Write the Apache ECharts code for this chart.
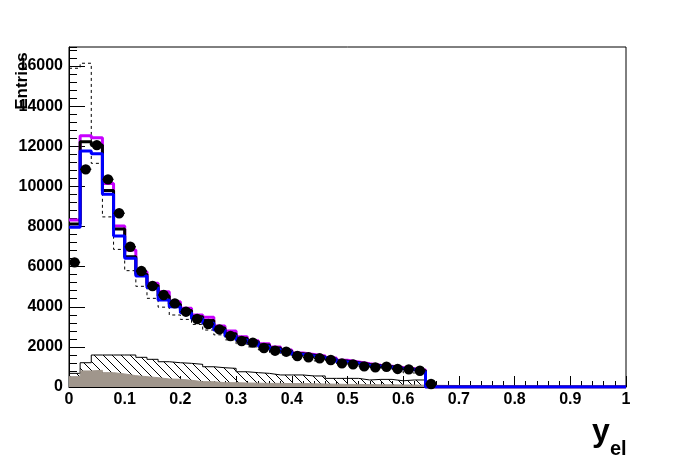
<!DOCTYPE html>
<html><head><meta charset="utf-8">
<script src="https://cdn.jsdelivr.net/npm/echarts@6/dist/echarts.min.js"></script>
<style>html,body{margin:0;padding:0;background:#fff}#c{width:696px;height:472px}</style>
</head><body><div id="c"></div>
<script>
// bin definitions (width 0.02)
const binWidth = 0.02;
const binLow = [0.00,0.02,0.04,0.06,0.08,0.10,0.12,0.14,0.16,0.18,0.20,0.22,0.24,0.26,0.28,0.30,
  0.32,0.34,0.36,0.38,0.40,0.42,0.44,0.46,0.48,0.50,0.52,0.54,0.56,0.58,0.60,0.62,0.64];
// data points
const dataVals = [6215,10850,12060,10350,8660,6990,5780,5035,4585,4170,3755,3390,3140,2875,2540,2295,
  2210,1945,1810,1760,1545,1480,1430,1345,1180,1130,1030,980,1010,900,880,810,150];
// MC histograms
const magentaVals = [8325,12530,12430,10150,8030,6830,5750,5170,4750,4250,3920,3590,3475,3040,2790,2510,
  2300,2150,2000,1850,1700,1620,1540,1440,1330,1250,1160,1090,1040,970,910,850,0];
const blackVals = [8125,12230,12060,9790,7875,6495,5620,5060,4540,4120,3810,3500,3320,2940,2660,2430,
  2260,2090,1940,1800,1660,1580,1500,1400,1290,1210,1120,1060,1010,940,880,810,0];
const blueVals = [7960,11765,11630,9605,7530,6415,5530,4950,4340,4000,3700,3405,3175,2840,2540,2340,
  2200,2030,1880,1760,1620,1540,1460,1370,1250,1180,1090,1030,980,910,860,770,0];
const dashedVals = [15890,16140,11150,8480,6860,5800,5020,4420,3980,3590,3370,3120,2840,2600,2350,2150,
  2000,1850,1700,1600,1480,1400,1300,1230,1150,1080,1000,950,900,820,700,690,0];
const hatchedVals = [680,1210,1595,1595,1595,1595,1480,1380,1260,1210,1180,1130,1010,960,930,760,
  715,680,600,600,600,550,550,430,430,430,350,380,380,310,350,350,0];
const greyVals = [515,800,830,715,650,565,515,465,400,385,335,265,265,215,215,200,
  190,180,180,170,170,160,150,140,130,130,120,110,110,100,100,90,0];
const xTicks = [0,0.1,0.2,0.3,0.4,0.5,0.6,0.7,0.8,0.9,1];
const yLabels = [0,2000,4000,6000,8000,10000,12000,14000,16000];

const xMax = 1, yMax = 16950;

function stepData(vals){
  const d = binLow.map((x,i)=>[x, vals[i]]);
  d.push([xMax, 0]);
  return d;
}

// hatch pattern
const pc = document.createElement('canvas'); pc.width = 9; pc.height = 9;
const g = pc.getContext('2d'); g.strokeStyle = '#000'; g.lineWidth = 1;
g.beginPath(); g.moveTo(0,0); g.lineTo(9,9); g.moveTo(-1,8); g.lineTo(1,10); g.moveTo(8,-1); g.lineTo(10,1); g.stroke();

const FONT = 'Liberation Sans';
const chart = echarts.init(document.getElementById('c'), null, {renderer:'canvas'});

function lineSeries(vals, color, width, type, extra){
  return Object.assign({
    type:'line', step:'end', data: stepData(vals), symbol:'none', animation:false,
    lineStyle:{color:color, width:width, type:type||'solid'}
  }, extra||{});
}

chart.setOption({
  animation:false,
  backgroundColor:'#fff',
  grid:{left:69, top:47, width:557, height:340, show:true, borderColor:'#000', borderWidth:1, backgroundColor:'transparent'},
  xAxis:{type:'value', min:0, max:xMax, interval:0.1,
    axisLine:{lineStyle:{color:'#000', width:1}},
    axisTick:{inside:true, length:11, lineStyle:{color:'#000'}},
    minorTick:{show:true, splitNumber:5, length:6, lineStyle:{color:'#000'}},
    splitLine:{show:false},
    axisLabel:{margin:5, color:'#000', fontFamily:FONT, fontWeight:'bold', fontSize:16,
      formatter:v=>{ const t = xTicks.find(k=>Math.abs(k-v)<1e-9); return t===undefined?'':String(t);} }
  },
  yAxis:[
    {type:'value', min:0, max:yMax, interval:2000, position:'left',
      axisLine:{show:true, lineStyle:{color:'#000', width:1}},
      axisTick:{inside:true, length:16, lineStyle:{color:'#000'}},
      splitLine:{show:false},
      axisLabel:{margin:6, color:'#000', fontFamily:FONT, fontWeight:'bold', fontSize:16, showMaxLabel:false,
        formatter:v=> yLabels.indexOf(v)>=0 ? String(v) : ''}
    },
    {type:'value', min:0, max:yMax, interval:400, position:'left',
      axisLine:{show:false},
      axisTick:{inside:true, length:8, lineStyle:{color:'#000'}},
      splitLine:{show:false}, axisLabel:{show:false}
    }
  ],
  graphic:[
    {type:'text', x:22, y:81, rotation:Math.PI/2,
      style:{text:'Entries', textAlign:'center', textVerticalAlign:'middle', font:'bold 17px '+FONT, fill:'#000'}},
    {type:'text', x:592, y:416, style:{text:'y', font:'bold 32px '+FONT, fill:'#000'}},
    {type:'text', x:610, y:439, style:{text:'el', font:'bold 20px '+FONT, fill:'#000'}}
  ],
  series:[
    lineSeries(hatchedVals, '#000', 1, 'solid', {areaStyle:{color:{image:pc, repeat:'repeat'}, opacity:1}}),
    lineSeries(greyVals, '#a0968c', 1, 'solid', {areaStyle:{color:'#a0968c', opacity:1}}),
    lineSeries(dashedVals, '#000', 1, [3,3]),
    lineSeries(magentaVals, '#c800ff', 3),
    lineSeries(blackVals, '#000', 3),
    lineSeries(blueVals, '#0000ff', 3),
    {type:'custom', animation:false, z:10,
      data: binLow.map((x,i)=>[x+binWidth/2, dataVals[i]]),
      renderItem:(params, api)=>{
        const x = api.value(0), y = api.value(1);
        const p = api.coord([x,y]);
        const l = api.coord([x-binWidth/2,y]);
        const r = api.coord([x+binWidth/2,y]);
        return {type:'group', children:[
          {type:'line', shape:{x1:l[0],y1:l[1],x2:r[0],y2:r[1]}, style:{stroke:'#000', lineWidth:1.5}},
          {type:'circle', shape:{cx:p[0],cy:p[1],r:5.2}, style:{fill:'#000'}}
        ]};
      }
    }
  ]
});
</script>
</body></html>
